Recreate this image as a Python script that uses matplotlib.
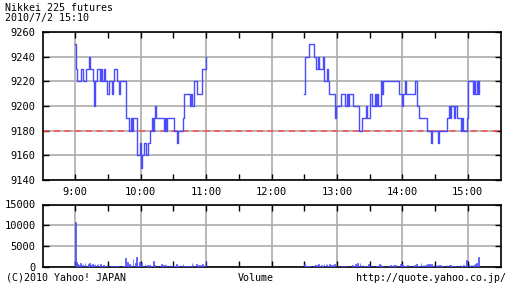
import matplotlib
matplotlib.use("Agg")
import matplotlib.pyplot as plt
import numpy as np

# ---- data ----
title_lines = ["Nikkei 225 futures", "2010/7/2 15:10"]
prev_close = 9180

# morning session, minutes after 9:00 and price (step changes)
am_min = [0, 1, 2, 5, 7, 10, 13, 14, 16, 17, 18, 20, 23, 24, 25, 26, 27, 29, 31, 34,
          35, 36, 38, 40, 41, 47, 49, 51, 52, 53, 57, 59, 60, 61, 63, 65, 67, 69, 70, 71,
          72, 73, 74, 81, 82, 83, 84, 91, 93, 94, 99, 100, 105, 106, 107, 109, 112, 116, 120]
am_px = [9250, 9230, 9220, 9230, 9220, 9230, 9240, 9230, 9220, 9200, 9220, 9230, 9220, 9230, 9220,
         9230, 9220, 9210, 9220, 9210, 9220, 9230, 9220, 9210, 9220, 9190, 9180, 9190, 9180, 9190,
         9160, 9170, 9150, 9160, 9170, 9160, 9170, 9180, 9190, 9180, 9190, 9200, 9190, 9180, 9190,
         9180, 9190, 9180, 9170, 9180, 9190, 9210, 9200, 9210, 9200, 9220, 9210, 9230, 9240]

# afternoon session, minutes after 12:30 and price
pm_min = [0, 1, 4, 9, 11, 13, 14, 17, 18, 21, 22, 23, 28, 29, 34, 37, 39, 40, 41, 45,
          50, 53, 57, 58, 60, 62, 65, 66, 67, 68, 70, 71, 72, 87, 90, 91, 92, 93, 102, 103,
          105, 113, 116, 117, 123, 124, 131, 133, 134, 135, 137, 138, 140, 144, 145, 146,
          149, 150, 155, 156, 157, 158, 159, 160]
pm_px = [9210, 9240, 9250, 9240, 9230, 9240, 9230, 9240, 9220, 9230, 9220, 9210, 9190, 9200, 9210,
         9200, 9210, 9200, 9210, 9200, 9180, 9190, 9200, 9190, 9210, 9200, 9210, 9200, 9210, 9200,
         9220, 9210, 9220, 9210, 9200, 9210, 9220, 9210, 9220, 9200, 9190, 9180, 9170, 9180, 9170,
         9180, 9190, 9200, 9190, 9200, 9190, 9200, 9190, 9180, 9190, 9180, 9190, 9220, 9210, 9220,
         9210, 9220, 9210, 9220]

# volume per minute, 9:00-11:00
am_vol = [10700, 1200, 640, 400, 200, 960, 400, 640, 200, 960, 400, 200, 720, 960, 400, 200, 640, 480,
          720, 240, 720, 720, 300, 800, 160, 200, 400, 150, 200, 480, 150, 200, 320, 150, 320, 100,
          150, 200, 320, 320, 150, 100, 200, 150, 240, 150, 2160, 300, 1200, 200, 640, 400, 200, 2000,
          300, 960, 2400, 300, 200, 1100, 300, 960, 200, 300, 640, 200, 400, 150, 480, 200, 150, 200,
          1440, 480, 150, 240, 150, 100, 200, 800, 200, 480, 150, 400, 150, 240, 150, 480, 150, 100,
          320, 150, 200, 640, 320, 150, 480, 150, 200, 640, 200, 320, 150, 240, 100, 150, 200, 960,
          400, 150, 200, 640, 200, 480, 150, 400, 200, 640, 200, 400, 1440]
# volume per minute, 12:30-15:10
pm_vol = [800, 320, 150, 320, 150, 100, 150, 100, 150, 200, 640, 400, 200, 640, 150, 200, 400, 150,
          640, 200, 640, 640, 300, 640, 480, 300, 400, 200, 640, 150, 240, 240, 150, 100, 240, 150,
          100, 240, 150, 100, 240, 150, 100, 150, 480, 150, 240, 800, 300, 960, 200, 960, 400, 150,
          480, 150, 240, 100, 150, 640, 240, 150, 100, 240, 150, 100, 240, 150, 200, 800, 400, 150,
          240, 100, 150, 240, 100, 150, 100, 400, 150, 200, 400, 150, 400, 200, 150, 240, 800, 800,
          400, 150, 240, 150, 200, 400, 150, 240, 100, 150, 200, 400, 150, 640, 200, 240, 150, 960,
          200, 400, 150, 480, 200, 640, 150, 800, 200, 640, 150, 480, 200, 480, 150, 480, 200, 400,
          150, 240, 100, 150, 200, 400, 200, 400, 400, 240, 150, 100, 240, 150, 100, 150, 200, 480,
          150, 200, 400, 150, 200, 1760, 300, 640, 200, 400, 150, 400, 200, 640, 960, 300, 2400]

hour_labels = ["9:00", "10:00", "11:00", "12:00", "13:00", "14:00", "15:00"]

# ---- styling ----
BLUE = "#4c4cff"
GRID = "#acacac"
FONT = "DejaVu Sans Mono"
plt.rcParams["font.family"] = [FONT]

W, H = 512, 288
fig = plt.figure(figsize=(W / 100, H / 100), dpi=100)
fig.patch.set_facecolor("white")

def frac(x0, y0, x1, y1):
    return [x0 / W, 1 - y1 / H, (x1 - x0) / W, (y1 - y0) / H]

ax = fig.add_axes(frac(42.5, 32, 500.5, 180))
axv = fig.add_axes(frac(42.5, 204.5, 500.5, 267))

am_t = 540 + np.array(am_min)
pm_t = 750 + np.array(pm_min)

major = [540 + 60 * i for i in range(len(hour_labels))]
minor = [570 + 60 * i for i in range(6)]

for a in (ax, axv):
    a.set_xlim(510, 930)
    a.set_xticks(major)
    a.set_xticks(minor, minor=True)
    a.grid(True, which="major", color=GRID, linewidth=1.2)
    a.set_axisbelow(True)
    for s in a.spines.values():
        s.set_linewidth(1.2)
        s.set_color("black")
    a.tick_params(which="both", direction="in", top=True, right=True, length=4,
                  width=1.0, labelsize=7.5, colors="black")

ax.axhline(prev_close, color="#ff4a4a", linestyle=(0, (4, 3)), linewidth=1.1, zorder=2)
ax.plot(am_t, am_px, drawstyle="steps-post", color=BLUE, linewidth=1.0, zorder=3)
ax.plot(pm_t, pm_px, drawstyle="steps-post", color=BLUE, linewidth=1.0, zorder=3)
ax.set_ylim(9140, 9260)
ax.set_yticks(np.arange(9140, 9261, 20))
ax.set_xticklabels(hour_labels)
ax.tick_params(axis="x", pad=5)
ax.tick_params(axis="y", pad=5)

axv.bar(540 + np.arange(len(am_vol)), am_vol, width=0.6, color=BLUE, edgecolor=BLUE,
        linewidth=0.5, zorder=3)
axv.bar(750 + np.arange(len(pm_vol)), pm_vol, width=0.6, color=BLUE, edgecolor=BLUE,
        linewidth=0.5, zorder=3)
axv.set_ylim(0, 15000)
axv.set_yticks([0, 5000, 10000, 15000])
axv.tick_params(axis="x", labelbottom=False)
axv.tick_params(axis="y", pad=5)

fig.text(5 / W, 1 - 3 / H, title_lines[0], fontsize=7.2, va="top", ha="left")
fig.text(5 / W, 1 - 12.5 / H, title_lines[1], fontsize=7.2, va="top", ha="left")

fig.text(6 / W, 1 - 278 / H, "(C)2010 Yahoo! JAPAN", fontsize=7.2, va="center", ha="left")
fig.text(256 / W, 1 - 278 / H, "Volume", fontsize=7.2, va="center", ha="center")
fig.text(506 / W, 1 - 278 / H, "http://quote.yahoo.co.jp/", fontsize=7.2, va="center", ha="right")

fig.savefig("out.png", dpi=100)
